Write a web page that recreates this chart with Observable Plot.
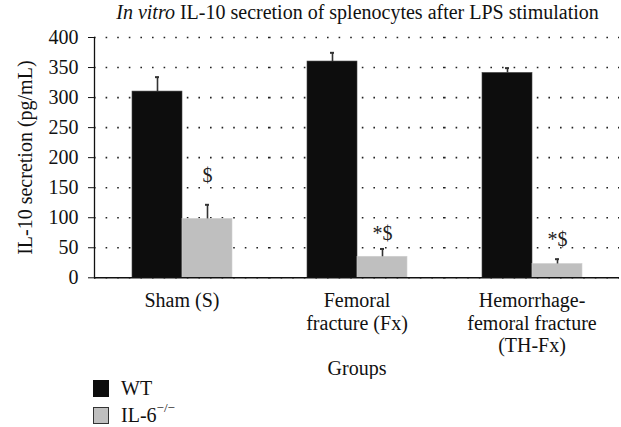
<!DOCTYPE html>
<html><head><meta charset="utf-8">
<script src="https://cdn.jsdelivr.net/npm/d3@7"></script>
<script src="https://cdn.jsdelivr.net/npm/@observablehq/plot@0.6"></script>
<style>
body{margin:0;background:#fff;font-family:"Liberation Serif",serif;color:#111;}
#title{width:527px;padding-left:94px;height:24px;line-height:24px;font-size:20px;text-align:center;white-space:nowrap;}
#legend{padding-left:93px;font-size:20px;margin-top:-4px;}
.row{display:flex;align-items:center;height:27px;}
.sw{width:16px;height:17px;margin-right:12px;box-sizing:border-box;}
sup{font-size:13px;line-height:0;position:relative;top:-2px;}
</style></head><body>
<div id="title"><i>In vitro</i> IL-10 secretion of splenocytes after LPS stimulation</div>
<div id="chart"></div>
<div id="legend"></div>
<script>
const groups = ["Sham (S)", "Femoral fracture (Fx)", "Hemorrhage-femoral fracture (TH-Fx)"];
const groupLabels = ["Sham (S)", "Femoral\nfracture (Fx)", "Hemorrhage-\nfemoral fracture\n(TH-Fx)"];
const series = ["WT", "IL-6-/-"];
const wtValues = [310, 360, 341];
const wtErrors = [24, 14.5, 8];
const koValues = [98, 35, 23];
const koErrors = [23.5, 13, 8];
const annotations = ["$", "*$", "*$"];
const annotationY = [170, 73, 63];
const yTicks = [0, 50, 100, 150, 200, 250, 300, 350, 400];
const colors = ["#0d0d0d", "#bfbfbf"];

const rows = [];
groups.forEach((g, i) => {
  rows.push({group: g, series: series[0], value: wtValues[i], err: wtErrors[i]});
  rows.push({group: g, series: series[1], value: koValues[i], err: koErrors[i]});
});
const annots = groups.map((g, i) => ({group: g, series: series[1], y: annotationY[i], text: annotations[i]}));
const labelOf = new Map(groups.map((g, i) => [g, groupLabels[i]]));

const chart = Plot.plot({
  width: 621, height: 355,
  marginLeft: 94, marginRight: 2, marginTop: 13, marginBottom: 101.7,
  style: {fontFamily: "Liberation Serif", fontSize: "20px", color: "#111", background: "#fff"},
  fx: {domain: groups, padding: 0},
  x: {domain: series, paddingInner: 0, paddingOuter: 0.75, axis: null},
  y: {domain: [0, 400]},
  color: {domain: series, range: colors},
  marks: [
    Plot.gridY(yTicks, {stroke: "#222", strokeOpacity: 1, strokeWidth: 1.6, strokeDasharray: "1.6 10"}),
    Plot.barY(rows, {fx: "group", x: "series", y: "value", fill: "series", stroke: d => d.series === series[0] ? "#444" : "#cfcfcf", strokeWidth: 0.6}),
    Plot.ruleX(rows, {fx: "group", x: "series", y1: "value", y2: d => d.value + d.err, stroke: "#333", strokeWidth: 1.6}),
    Plot.tickY(rows, {fx: "group", x: "series", y: d => d.value + d.err, insetLeft: 23, insetRight: 23, stroke: "#333", strokeWidth: 2}),
    Plot.text(annots, {fx: "group", x: "series", y: "y", text: "text", fontSize: 20, fill: "#222"}),
    Plot.ruleY([0], {stroke: "#111", strokeWidth: 1.5}),
    Plot.frame({anchor: "left", facetAnchor: "left", stroke: "#111", strokeWidth: 1.3}),
    Plot.axisY({ticks: yTicks, tickSize: 6, tickPadding: 10, label: "IL-10 secretion (pg/mL)", labelAnchor: "center", labelArrow: "none", labelOffset: 77, fill: "#111"}),
    Plot.axisFx({anchor: "bottom", tickSize: 0, tickPadding: 13.5, tickFormat: g => labelOf.get(g), lineHeight: 1.125, label: "Groups", labelAnchor: "center", labelArrow: "none", labelOffset: 97, fill: "#111"})
  ]
});
document.getElementById("chart").appendChild(chart);

const legend = document.getElementById("legend");
series.forEach((s, i) => {
  const row = document.createElement("div");
  row.className = "row";
  const sw = document.createElement("div");
  sw.className = "sw";
  sw.style.background = colors[i];
  sw.style.border = "1px solid " + (i === 0 ? "#0d0d0d" : "#333");
  const t = document.createElement("span");
  if (i === 1) t.innerHTML = "IL-6<sup>\u2212/\u2212</sup>"; else t.textContent = s;
  row.appendChild(sw); row.appendChild(t);
  legend.appendChild(row);
});
</script>
</body></html>
